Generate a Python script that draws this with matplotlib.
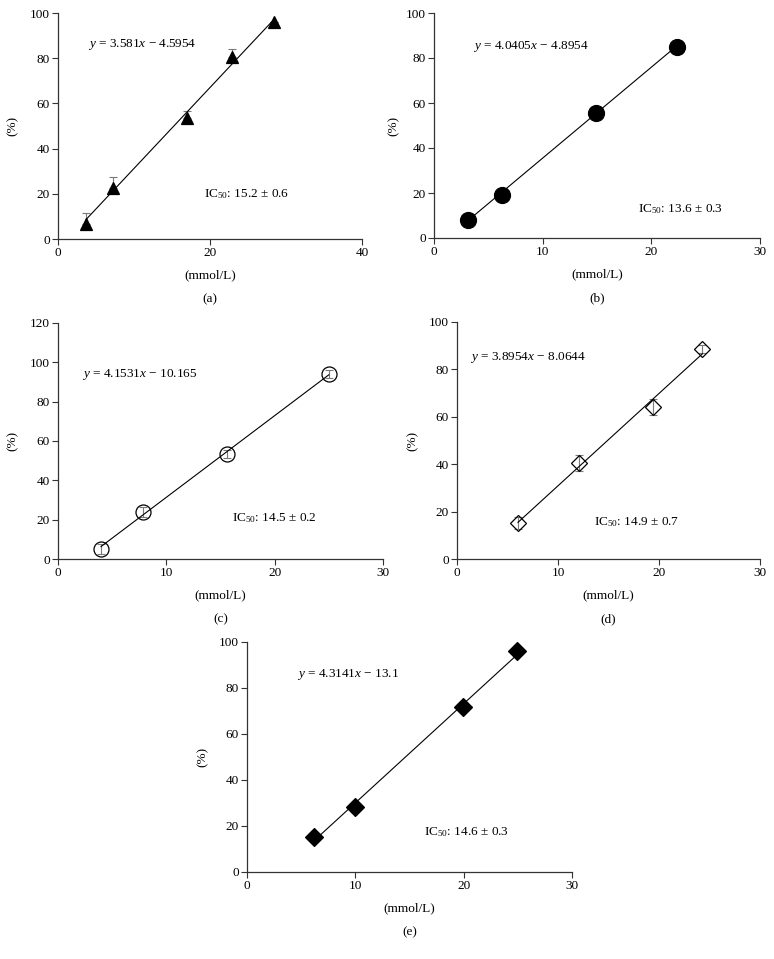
import matplotlib
import matplotlib.pyplot as plt
import numpy as np

matplotlib.use("Agg")

plt.rcParams["font.family"] = ["Liberation Serif", "DejaVu Serif"]
plt.rcParams["mathtext.fontset"] = "custom"
plt.rcParams["mathtext.rm"] = "Liberation Serif"
plt.rcParams["mathtext.it"] = "Liberation Serif:italic"
plt.rcParams["font.size"] = 9.5

# data
conc_a = [3.7, 7.2, 17.0, 22.9, 28.4]
inhib_a = [6.6, 22.6, 53.5, 80.5, 96.0]
err_a = [5.0, 4.8, 3.0, 3.5, 0.0]

conc_b = [3.1, 6.25, 14.9, 22.35]
inhib_b = [8.0, 19.1, 55.5, 85.0]

conc_c = [3.97, 7.85, 15.6, 25.0]
inhib_c = [5.1, 23.9, 53.4, 94.0]
err_c = [2.5, 2.5, 2.0, 2.0]

conc_d = [6.04, 12.1, 19.4, 24.3]
inhib_d = [15.2, 40.5, 64.1, 88.6]
err_d = [2.5, 3.4, 3.4, 1.5]

conc_e = [6.2, 10.0, 19.95, 24.9]
inhib_e = [15.2, 28.3, 71.7, 96.0]

slopes = [3.581, 4.0405, 4.1531, 3.8954, 4.3141]
intercepts = [-4.5954, -4.8954, -10.165, -8.0644, -13.1]
eq_labels = [
    "$y$ = 3.581$x$ \u2212 4.5954",
    "$y$ = 4.0405$x$ \u2212 4.8954",
    "$y$ = 4.1531$x$ \u2212 10.165",
    "$y$ = 3.8954$x$ \u2212 8.0644",
    "$y$ = 4.3141$x$ \u2212 13.1",
]
ic50_labels = [
    "IC$_{50}$: 15.2 \u00b1 0.6",
    "IC$_{50}$: 13.6 \u00b1 0.3",
    "IC$_{50}$: 14.5 \u00b1 0.2",
    "IC$_{50}$: 14.9 \u00b1 0.7",
    "IC$_{50}$: 14.6 \u00b1 0.3",
]
panel_letters = ["(a)", "(b)", "(c)", "(d)", "(e)"]

W, H = 774, 959
fig = plt.figure(figsize=(W / 100, H / 100), dpi=100)


def px_axes(left, right, top, bottom):
    return fig.add_axes([left / W, 1 - bottom / H, (right - left) / W, (bottom - top) / H])


panels = [
    dict(box=(58, 362, 13, 239), x=conc_a, y=inhib_a, err=err_a, upper_only=True, xmax=40, xstep=20,
         ymax=100, marker="^", ms=9, mfc="black", eq=(4.0, 86), ic=(19.2, 20), ylab=45),
    dict(box=(434, 760, 13, 238), x=conc_b, y=inhib_b, err=None, upper_only=False, xmax=30, xstep=10,
         ymax=100, marker="o", ms=11.5, mfc="black", eq=(3.6, 85), ic=(18.8, 13), ylab=40),
    dict(box=(58, 383, 323, 559), x=conc_c, y=inhib_c, err=err_c, upper_only=False, xmax=30, xstep=10,
         ymax=120, marker="o", ms=10.8, mfc="none", eq=(2.2, 94), ic=(16.1, 21), ylab=45),
    dict(box=(457, 760, 322, 559), x=conc_d, y=inhib_d, err=err_d, upper_only=False, xmax=30, xstep=10,
         ymax=100, marker="D", ms=8.5, mfc="none", eq=(1.3, 85), ic=(13.6, 15.5), ylab=44),
    dict(box=(247, 572, 642, 872), x=conc_e, y=inhib_e, err=None, upper_only=False, xmax=30, xstep=10,
         ymax=100, marker="D", ms=9, mfc="black", eq=(4.6, 86), ic=(16.3, 17.5), ylab=44),
]

for i, p in enumerate(panels):
    left, right, top, bottom = p["box"]
    ax = px_axes(left, right, top, bottom)

    x = np.array(p["x"])
    xs = np.array([x.min(), x.max()])
    ax.plot(xs, slopes[i] * xs + intercepts[i], color="black", lw=0.8, zorder=2)

    if p["err"] is not None:
        err = np.array(p["err"])
        yerr = [np.zeros_like(err), err] if p["upper_only"] else err
        ax.errorbar(x, p["y"], yerr=yerr, fmt="none", ecolor="#7a7a7a",
                    elinewidth=0.8, capsize=3, capthick=0.8, zorder=1)
    ax.plot(x, p["y"], linestyle="none", marker=p["marker"], ms=p["ms"],
            mfc=p["mfc"], mec="black", mew=0.9, zorder=3, clip_on=False)

    ax.set_xlim(0, p["xmax"])
    ax.set_ylim(0, p["ymax"])
    ax.set_xticks(np.arange(0, p["xmax"] + 1, p["xstep"]))
    ax.set_yticks(np.arange(0, p["ymax"] + 1, 20))
    for s in ["top", "right"]:
        ax.spines[s].set_visible(False)
    for s in ["left", "bottom"]:
        ax.spines[s].set_linewidth(0.9)
        ax.spines[s].set_color("#333333")
    ax.tick_params(direction="out", length=4, width=0.8, color="#333333", pad=2)

    ax.text(p["eq"][0], p["eq"][1], eq_labels[i], va="center", ha="left")
    ax.text(p["ic"][0], p["ic"][1], ic50_labels[i], va="center", ha="left")

    ax.set_ylabel("(%)", va="center")
    ax.yaxis.set_label_coords(-p["ylab"] / (right - left), 0.5)

    ax.annotate("(mmol/L)", xy=(0.5, 0), xycoords="axes fraction", xytext=(0, -36 * 0.72),
                textcoords="offset points", ha="center", va="center")
    ax.annotate(panel_letters[i], xy=(0.5, 0), xycoords="axes fraction", xytext=(0, -60 * 0.72),
                textcoords="offset points", ha="center", va="center")

fig.savefig("out.png", dpi=100)
plt.close(fig)
